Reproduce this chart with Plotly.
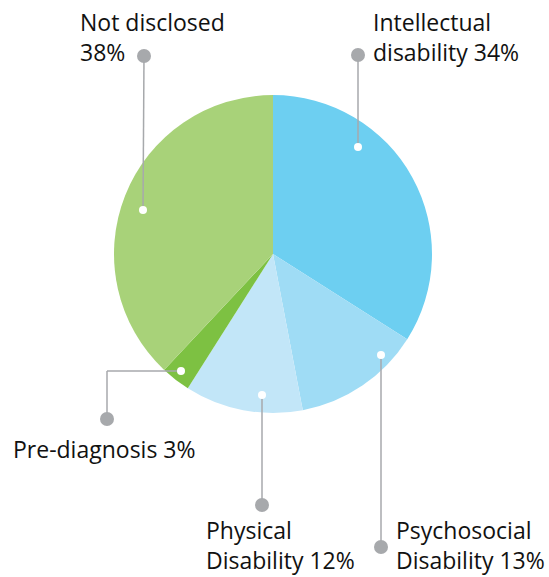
import plotly.graph_objects as go

W, H = 549, 577

categories = ["Intellectual disability", "Psychosocial Disability", "Physical Disability",
              "Pre-diagnosis", "Not disclosed"]
values = [34, 13, 12, 3, 38]
colors = ["#6dcff1", "#9fdcf5", "#c2e6f8", "#7dc142", "#a8d279"]
label_texts = ["Intellectual<br>disability 34%", "Psychosocial<br>Disability 13%",
               "Physical<br>Disability 12%", "Pre-diagnosis 3%", "Not disclosed<br>38%"]

# label layout (pixel positions): inner dot, outer dot, elbow, text anchor
inner = [(358, 147), (381, 355), (262, 395), (181, 371), (143, 210)]
outer = [(358, 55), (381, 547), (262, 505), (107, 419), (144, 56)]
elbow = [None, None, None, (107, 371), None]
text_pos = [(371, 37), (394, 545), (204, 545), (11, 449), (78, 37)]


def px(x, y):
    return x / W, 1 - y / H


fig = go.Figure(go.Pie(
    labels=categories, values=values, sort=False, direction="clockwise", rotation=0,
    marker=dict(colors=colors, line=dict(width=0)), textinfo="none", showlegend=False,
    domain=dict(x=[114 / W, 432 / W], y=[1 - 413 / H, 1 - 95 / H]),
))

shapes = []
LINE = "#a7a9ac"
for i in range(len(categories)):
    pts = [inner[i]] + ([elbow[i]] if elbow[i] else []) + [outer[i]]
    for (x0, y0), (x1, y1) in zip(pts[:-1], pts[1:]):
        a0, b0 = px(x0, y0)
        a1, b1 = px(x1, y1)
        shapes.append(dict(type="line", xref="paper", yref="paper", x0=a0, y0=b0, x1=a1, y1=b1,
                           line=dict(color=LINE, width=1.5)))
    ox, oy = outer[i]
    r = 7
    a0, b0 = px(ox - r, oy + r)
    a1, b1 = px(ox + r, oy - r)
    shapes.append(dict(type="circle", xref="paper", yref="paper", x0=a0, y0=b0, x1=a1, y1=b1,
                       fillcolor=LINE, line=dict(width=0)))
    ix, iy = inner[i]
    r = 4
    a0, b0 = px(ix - r, iy + r)
    a1, b1 = px(ix + r, iy - r)
    shapes.append(dict(type="circle", xref="paper", yref="paper", x0=a0, y0=b0, x1=a1, y1=b1,
                       fillcolor="white", line=dict(width=0)))

annotations = []
for i in range(len(categories)):
    tx, ty = text_pos[i]
    ax, ay = px(tx, ty)
    annotations.append(dict(text=label_texts[i], xref="paper", yref="paper", x=ax, y=ay,
                            xanchor="left", yanchor="middle", align="left", showarrow=False,
                            font=dict(family="Open Sans, sans-serif", size=23, color="#111111")))

fig.update_layout(width=W, height=H, margin=dict(l=0, r=0, t=0, b=0),
                  paper_bgcolor="white", plot_bgcolor="white",
                  shapes=shapes, annotations=annotations)
fig.write_html("out.html")
